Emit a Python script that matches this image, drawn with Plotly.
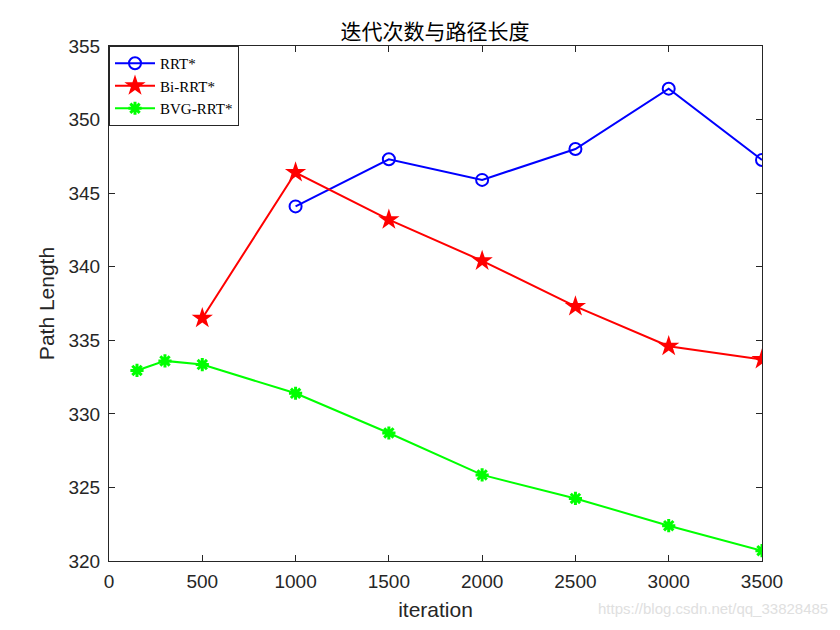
import plotly.graph_objects as go

rrt_x = [1000, 1500, 2000, 2500, 3000, 3500]
rrt_y = [344.1, 347.3, 345.9, 348.0, 352.1, 347.25]
bi_x = [500, 1000, 1500, 2000, 2500, 3000, 3500]
bi_y = [336.5, 346.4, 343.2, 340.4, 337.3, 334.6, 333.7]
bvg_x = [150, 300, 500, 1000, 1500, 2000, 2500, 3000, 3500]
bvg_y = [332.95, 333.6, 333.35, 331.4, 328.7, 325.85, 324.25, 322.4, 320.7]
x_ticks = [0, 500, 1000, 1500, 2000, 2500, 3000, 3500]
y_ticks = [320, 325, 330, 335, 340, 345, 350, 355]

fig = go.Figure()
fig.add_trace(go.Scatter(x=rrt_x, y=rrt_y, name="RRT*", mode="lines+markers",
                         line=dict(color="#0000ff", width=2),
                         marker=dict(symbol="circle-open", size=12, color="#0000ff",
                                     line=dict(width=2, color="#0000ff"))))
fig.add_trace(go.Scatter(x=bi_x, y=bi_y, name="Bi-RRT*", mode="lines+markers",
                         line=dict(color="#ff0000", width=2),
                         marker=dict(symbol="star", size=16, color="#ff0000",
                                     line=dict(width=0))))
fig.add_trace(go.Scatter(x=bvg_x, y=bvg_y, name="BVG-RRT*", mode="lines+markers",
                         line=dict(color="#00ff00", width=2),
                         marker=dict(symbol="asterisk-open", size=11, color="#00ff00",
                                     line=dict(width=3, color="#00ff00"))))

axis_common = dict(showline=True, linecolor="#262626", linewidth=1, mirror="ticks",
                   ticks="inside", ticklen=6, tickcolor="#262626", showgrid=False,
                   zeroline=False, tickfont=dict(family="Liberation Sans, Arial", size=19, color="#262626"))
fig.update_xaxes(range=[0, 3500], tickvals=x_ticks, ticklabelstandoff=3, **axis_common,
                 title=dict(text="iteration", font=dict(family="Liberation Sans, Arial", size=21, color="#262626"), standoff=11))
fig.update_yaxes(range=[320, 355], tickvals=y_ticks, ticklabelstandoff=4, **axis_common,
                 title=dict(text="Path Length", font=dict(family="Liberation Sans, Arial", size=21, color="#262626"), standoff=8))

fig.update_layout(
    width=832, height=622,
    paper_bgcolor="white", plot_bgcolor="white",
    margin=dict(l=101, r=78, t=38, b=69),
    title=dict(text="迭代次数与路径长度", x=(435 - 8) / 832, xanchor="center", y=1 - 24 / 622, yanchor="middle",
               xref="container", yref="container",
               font=dict(family="Noto Sans CJK SC", size=21, color="#000000")),
    legend=dict(x=0, y=1, xanchor="left", yanchor="top", bgcolor="white",
                bordercolor="#262626", borderwidth=1, tracegroupgap=0,
                font=dict(family="Liberation Serif, Times New Roman", size=15, color="#000000"),
                itemwidth=40),
    showlegend=True,
)
fig.add_annotation(text="https://blog.csdn.net/qq_33828485", xref="paper", yref="paper",
                   x=1.104, y=-0.093, xanchor="right", yanchor="middle", showarrow=False,
                   font=dict(family="Liberation Sans, Arial", size=15, color="#e0e0e0"))

fig.write_html("out.html")
